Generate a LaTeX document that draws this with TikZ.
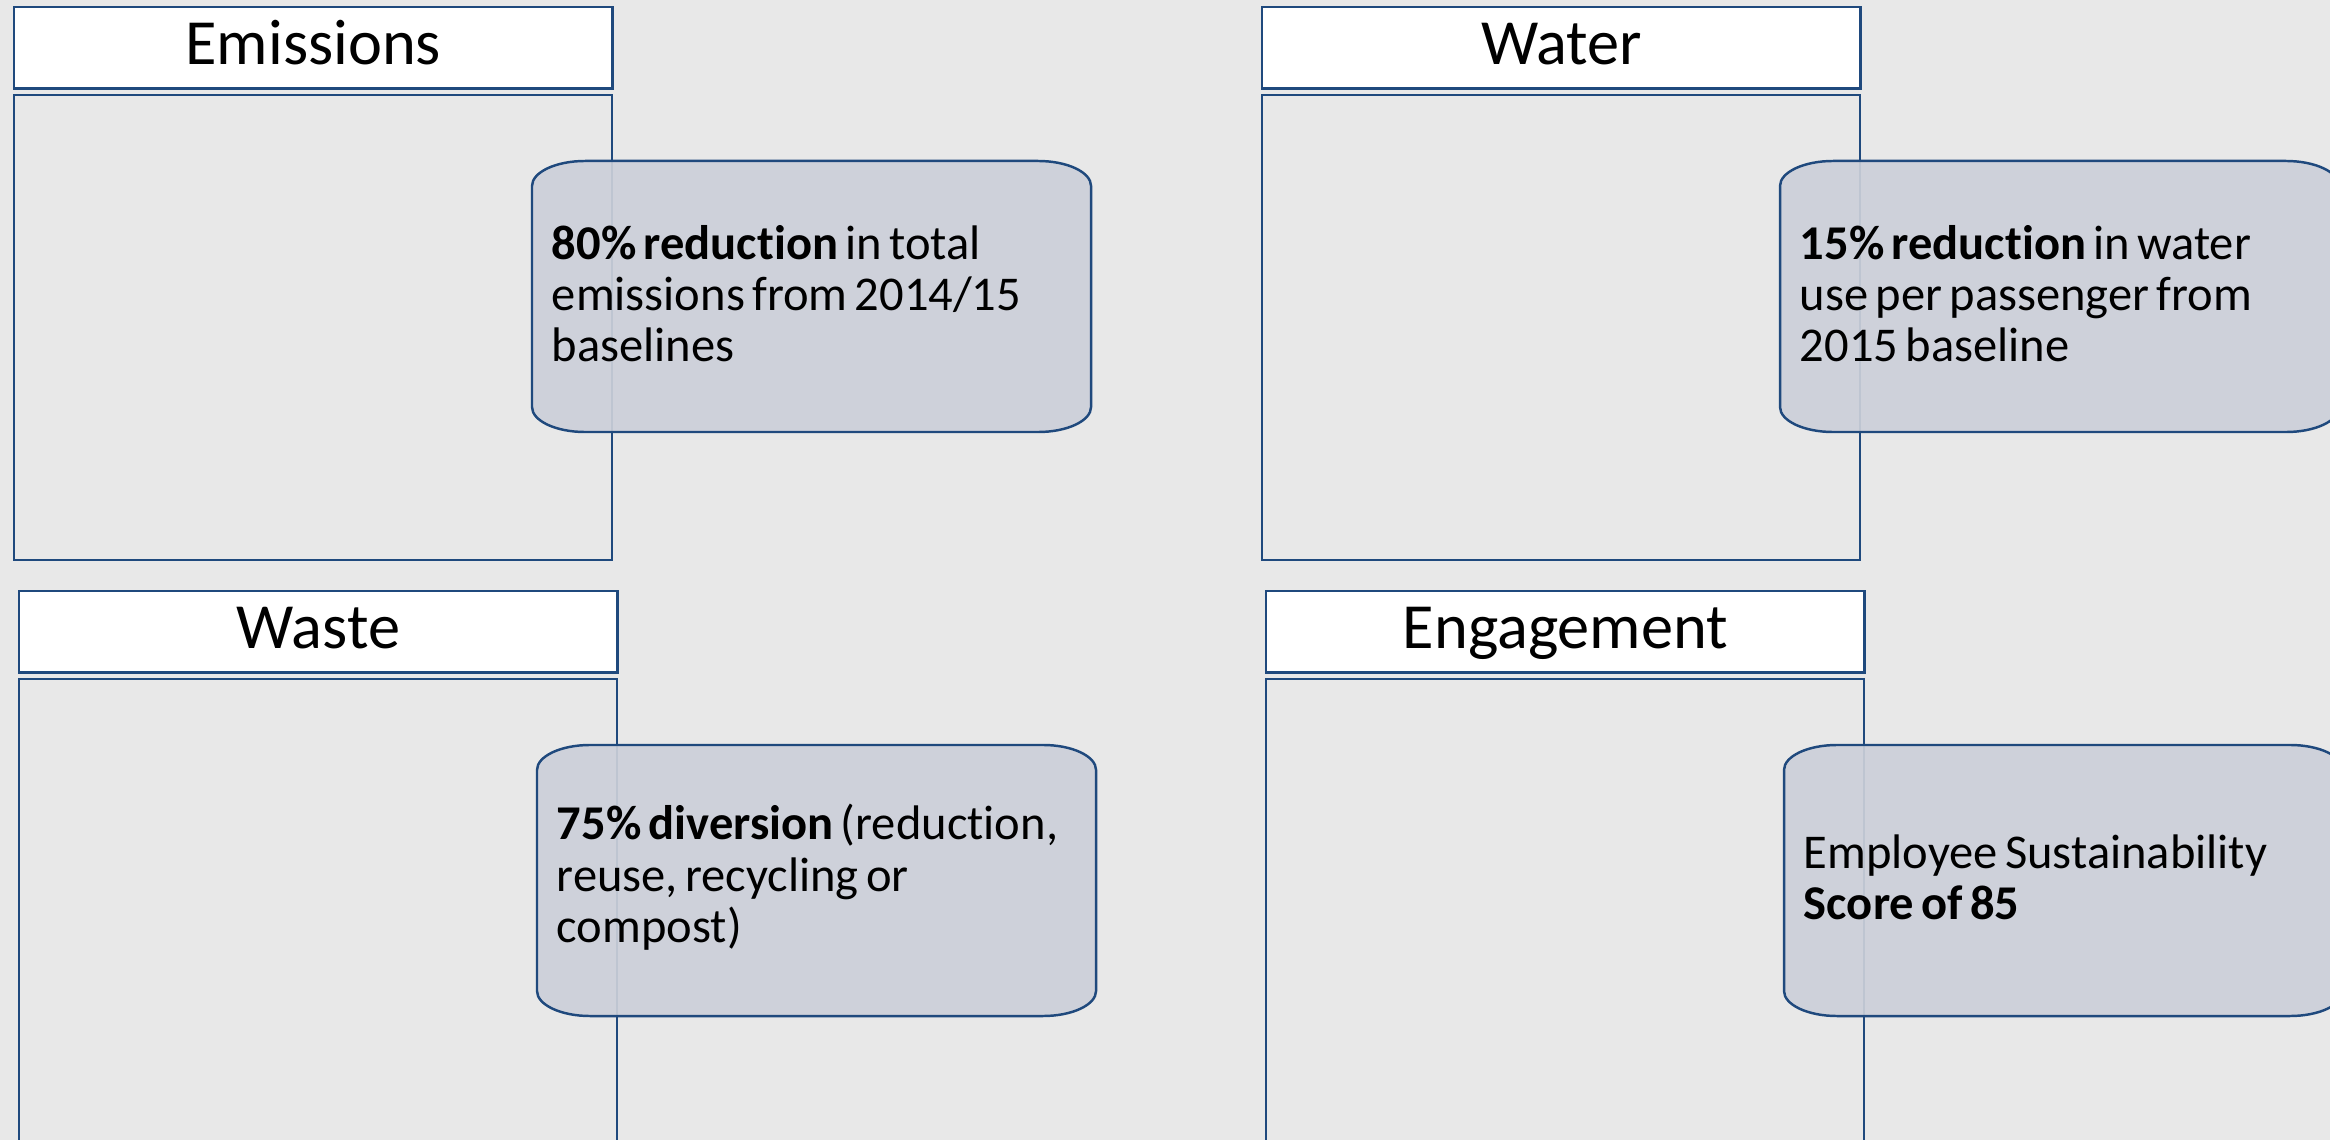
\documentclass[tikz,border=0pt]{standalone}
\usepackage{fontspec}
\setmainfont{Carlito}[Ligatures=CommonOff]

\definecolor{frameblue}{RGB}{31,73,125}
\definecolor{slidegray}{RGB}{232,232,232}
\definecolor{goalgray}{RGB}{204,208,217}

\tikzset{
	headbox/.style={draw=frameblue, line width=0.7pt, fill=white, anchor=north west,
		minimum width=5.98cm, minimum height=0.81cm, inner sep=0pt,
		font=\fontsize{18.3}{21}\selectfont, text height=9.5pt, text depth=0pt},
	panelbox/.style={draw=frameblue, line width=0.6pt, anchor=north west,
		minimum width=5.98cm, minimum height=4.65cm, inner sep=0pt},
	goalshape/.style={draw=frameblue, line width=0.7pt, fill=goalgray, fill opacity=0.92},
	goaltext/.style={text width=5.19cm, align=left, inner sep=0pt,
		font=\fontsize{13.8}{14.6}\selectfont,
		execute at begin node={\spaceskip=0.15em plus 0.05em\relax}},
}

\begin{document}
\begin{tikzpicture}[x=0.01cm, y=-0.01cm]

\useasboundingbox (0,0) rectangle (2330,1140);
\fill[slidegray] (0,0) rectangle (2330,1140);
\clip (0,0) rectangle (2330,1140);

% PANELS
\foreach \n/\x/\y/\title/\goal in{
	em/13/6/Emissions/{\textbf{80\% reduction} in total\\emissions from 2014/15\\baselines},
	wa/1261/6/Water/{\textbf{15\% reduction} in water\\use per passenger from\\2015 baseline},
	ws/18/590/Waste/{\textbf{75\% diversion} (reduction,\\reuse, recycling or\\compost)},
	en/1265/590/Engagement/{Employee Sustainability\\\textbf{Score of 85}}%
}{
	\node[headbox](head-\n) at(\x, \y) {\title};
	\node[panelbox](body-\n) at(\x, \y+88) {};
	\coordinate(corner-\n) at(\x+519, \y+155);
	\path[goalshape] (corner-\n) ++(0,25)
		arc[start angle=180, end angle=90, x radius=0.53cm, y radius=0.25cm] -- ++(453,0)
		arc[start angle=90, end angle=0, x radius=0.53cm, y radius=0.25cm] -- ++(0,221)
		arc[start angle=0, end angle=-90, x radius=0.53cm, y radius=0.25cm] -- ++(-453,0)
		arc[start angle=270, end angle=180, x radius=0.53cm, y radius=0.25cm] -- cycle;
	\node[goaltext](goal-\n) at(\x+798.5, \y+287.5) {\goal};
}

\end{tikzpicture}
\end{document}
